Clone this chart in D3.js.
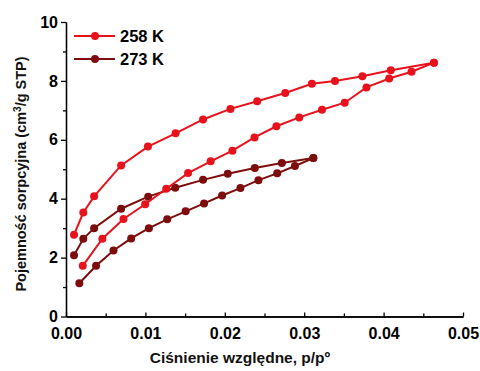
<!DOCTYPE html>
<html>
<head>
<meta charset="utf-8">
<script src="https://cdnjs.cloudflare.com/ajax/libs/d3/7.8.5/d3.min.js"></script>
<style>
  body { margin: 0; background: #fff; }
  text { font-family: "Liberation Sans", Arial, sans-serif; font-weight: bold; }
</style>
</head>
<body>
<svg id="chart" width="480" height="371"></svg>
<script>
// 258 K - adsorpcja (dolna galaz) i desorpcja (gorna galaz)
var ads258X = [0.00211, 0.00458, 0.00724, 0.00997, 0.01263, 0.01537, 0.01822, 0.02096, 0.02374, 0.0265, 0.02938, 0.03224, 0.0351, 0.03784, 0.0407, 0.04352, 0.04634];
var ads258Y = [1.72, 2.64, 3.31, 3.81, 4.34, 4.87, 5.27, 5.63, 6.08, 6.46, 6.76, 7.02, 7.26, 7.78, 8.08, 8.31, 8.62];
var des258X = [0.04634, 0.04091, 0.03733, 0.03388, 0.03097, 0.02761, 0.02408, 0.02071, 0.01726, 0.0138, 0.01032, 0.00694, 0.00354, 0.00218, 0.00101];
var des258Y = [8.62, 8.36, 8.16, 8.0, 7.90, 7.59, 7.31, 7.05, 6.69, 6.22, 5.77, 5.13, 4.08, 3.53, 2.78];

// 273 K
var ads273X = [0.00168, 0.00379, 0.00598, 0.00821, 0.01044, 0.01275, 0.01507, 0.01739, 0.01966, 0.02197, 0.02424, 0.0266, 0.02883, 0.03115];
var ads273Y = [1.13, 1.72, 2.24, 2.65, 3.0, 3.30, 3.57, 3.84, 4.11, 4.36, 4.63, 4.86, 5.11, 5.38];
var des273X = [0.03115, 0.02719, 0.02378, 0.02037, 0.01726, 0.01376, 0.01035, 0.00694, 0.00354, 0.00218, 0.00101];
var des273Y = [5.38, 5.21, 5.04, 4.85, 4.64, 4.37, 4.07, 3.66, 3.0, 2.64, 2.08];

var seriesNames = ["258 K", "273 K"];
var seriesColors = ["#e8121c", "#7d0c0c"];
var xTicks = [0, 0.01, 0.02, 0.03, 0.04, 0.05];
var yTicks = [0, 2, 4, 6, 8, 10];

var svg = d3.select("#chart");
var x = d3.scaleLinear().domain([0, 0.05]).range([66, 463]);
var y = d3.scaleLinear().domain([0, 10]).range([316.5, 22]);

// osie
var xAxis = d3.axisBottom(x).tickValues(xTicks).tickFormat(d3.format(".2f")).tickSizeInner(-4).tickSizeOuter(0).tickPadding(11);
var xMinor = d3.axisBottom(x).tickValues(d3.range(0.005, 0.05, 0.01)).tickFormat("").tickSizeInner(-3).tickSizeOuter(0);
var yAxis = d3.axisLeft(y).tickValues(yTicks).tickFormat(d3.format("d")).tickSizeInner(5).tickSizeOuter(0).tickPadding(3);
var yMinor = d3.axisLeft(y).tickValues([1, 3, 5, 7, 9]).tickFormat("").tickSizeInner(3).tickSizeOuter(0);

function styleAxis(g) {
  g.attr("font-size", null).attr("font-family", null);
  g.selectAll("path, line").attr("stroke", "#000").attr("stroke-width", 1.3);
  g.selectAll("text").attr("fill", "#000")
    .style("font-size", "16px")
    .style("font-family", "'Liberation Sans', Arial, sans-serif").style("font-weight", "bold");
}

svg.append("g").attr("transform", "translate(0," + y(0) + ")").call(xMinor).call(styleAxis);
svg.append("g").attr("transform", "translate(0," + y(0) + ")").call(xAxis).call(styleAxis);
svg.append("g").attr("transform", "translate(" + x(0) + ",0)").call(yMinor).call(styleAxis);
svg.append("g").attr("transform", "translate(" + x(0) + ",0)").call(yAxis).call(styleAxis);

// tytuly osi
svg.append("text").attr("x", 240).attr("y", 363).attr("text-anchor", "middle")
  .style("font-size", "15.5px").attr("fill", "#111").text("Ciśnienie względne, p/pº");

var yt = svg.append("text").attr("transform", "translate(26,174) rotate(-90)")
  .attr("text-anchor", "middle").style("font-size", "14.5px").attr("fill", "#111");
yt.append("tspan").text("Pojemność sorpcyjna (cm");
yt.append("tspan").style("font-size", "10px").attr("dy", -5).text("3");
yt.append("tspan").attr("dy", 5).text("/g STP)");

// serie
var line = d3.line().x(function (d) { return x(d[0]); }).y(function (d) { return y(d[1]); });

function drawBranch(xs, ys, color) {
  var pts = d3.zip(xs, ys);
  svg.append("path").datum(pts).attr("d", line).attr("fill", "none")
    .attr("stroke", color).attr("stroke-width", 2);
  svg.append("g").selectAll("circle").data(pts).enter().append("circle")
    .attr("cx", function (d) { return x(d[0]); })
    .attr("cy", function (d) { return y(d[1]); })
    .attr("r", 4).attr("fill", color);
}

drawBranch(ads273X, ads273Y, seriesColors[1]);
drawBranch(des273X, des273Y, seriesColors[1]);
drawBranch(ads258X, ads258Y, seriesColors[0]);
drawBranch(des258X, des258Y, seriesColors[0]);

// legenda
var leg = svg.append("g").selectAll("g").data(seriesNames).enter().append("g")
  .attr("transform", function (d, i) { return "translate(74," + (36 + i * 23) + ")"; });
leg.append("line").attr("x1", 0).attr("x2", 41).attr("y1", 0).attr("y2", 0)
  .attr("stroke", function (d, i) { return seriesColors[i]; }).attr("stroke-width", 2);
leg.append("circle").attr("cx", 21).attr("cy", 0).attr("r", 4)
  .attr("fill", function (d, i) { return seriesColors[i]; });
leg.append("text").attr("x", 46).attr("y", 6).style("font-size", "16.5px").text(function (d) { return d; });
</script>
</body>
</html>
